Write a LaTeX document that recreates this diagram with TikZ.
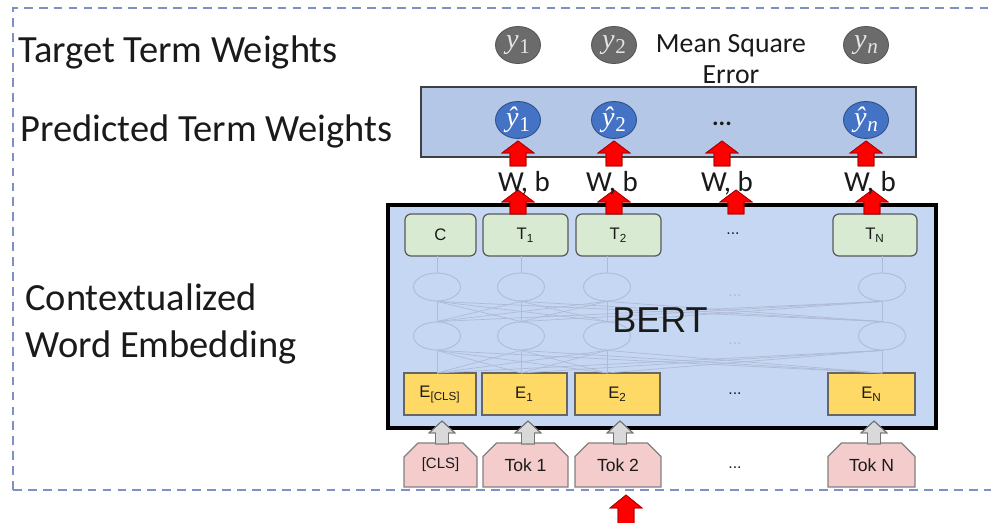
\documentclass[tikz,border=0pt]{standalone}
\usepackage{fontspec}
\setmainfont{Carlito}
\newfontfamily\arialf{Liberation Sans}
\newfontfamily\mathf{Liberation Serif}
\usetikzlibrary{shapes.misc,shapes.geometric}
\definecolor{dashblue}{HTML}{7F8FC8}
\definecolor{predfill}{HTML}{B4C7E7}
\definecolor{bertfill}{HTML}{C6D7F3}
\definecolor{greenfill}{HTML}{D9EAD3}
\definecolor{yellowfill}{HTML}{FFD966}
\definecolor{pinkfill}{HTML}{F4CCCC}
\definecolor{ygray}{HTML}{6B6B6B}
\definecolor{yblue}{HTML}{4472C4}
\definecolor{ghost}{HTML}{AEBBD6}
\definecolor{txt}{HTML}{1A1A1A}
\newcommand{\yv}[1]{{\mathf\itshape y}\kern0.5pt\raisebox{-0.35ex}{\mathf\fontsize{12}{12}\selectfont #1}}
\newcommand{\yh}[1]{{\mathf\itshape \^y}\kern0.5pt\raisebox{-0.35ex}{\mathf\fontsize{12}{12}\selectfont #1}}
\newcommand{\blockarrow}[7]{% x, ytip, ybase, headlen, headhalf, shafthalf, style
  \fill[#7] (#1,#2) -- (#1+#5,#2+#4) -- (#1+#6,#2+#4) -- (#1+#6,#3) -- (#1-#6,#3) -- (#1-#6,#2+#4) -- (#1-#5,#2+#4) -- cycle;
  \draw[#7,fill=none] (#1,#2) -- (#1+#5,#2+#4) -- (#1+#6,#2+#4) -- (#1+#6,#3) -- (#1-#6,#3) -- (#1-#6,#2+#4) -- (#1-#5,#2+#4) -- cycle;}
\begin{document}
\begin{tikzpicture}[x=0.02cm,y=-0.02cm,
  biglabel/.style={anchor=west,text=txt,font=\fontsize{21.9}{25}\selectfont,inner sep=0},
  ycirc/.style={ellipse,fill=ygray,draw=ygray!80!black,line width=0.5pt,minimum width=0.9cm,minimum height=0.74cm,inner sep=0,text=white!90!black,font=\fontsize{16}{16}\selectfont},
  yhat/.style={ellipse,fill=yblue,draw=yblue!70!black,line width=0.5pt,minimum width=0.9cm,minimum height=0.74cm,inner sep=0,text=white,font=\fontsize{16}{16}\selectfont},
  greenbox/.style={draw=black!65,fill=greenfill,rounded corners=0.12cm,line width=0.7pt,minimum height=0.84cm,inner sep=0,font=\arialf\fontsize{9.5}{10}\selectfont,text=txt},
  yellowbox/.style={draw=black!60,fill=yellowfill,line width=0.7pt,minimum height=0.84cm,inner sep=0,font=\arialf\fontsize{9.5}{10}\selectfont,text=txt},
  tokbox/.style={chamfered rectangle,chamfered rectangle corners={north east,north west},chamfered rectangle xsep=0.14cm,chamfered rectangle ysep=0.14cm,draw=black!50,fill=pinkfill,line width=0.7pt,minimum height=0.88cm,inner sep=0,font=\arialf\fontsize{10}{11}\selectfont,text=txt},
  ghostell/.style={ellipse,draw=ghost,line width=0.5pt,minimum width=0.94cm,minimum height=0.56cm,inner sep=0},
  ghostline/.style={draw=ghost,line width=0.4pt},
  dots/.style={text=txt,font=\arialf\fontsize{9}{10}\selectfont,inner sep=0},
  wb/.style={text=txt,font=\fontsize{16.5}{17}\selectfont,inner sep=0},
  redarrow/.style={fill=red,draw=red!70!black,line width=0.4pt},
  grayarrow/.style={fill=black!15,draw=black!55,line width=0.5pt}
]
\useasboundingbox (0,0) rectangle (991,523);
% dashed frame
\draw[dashblue,line width=1.1pt,dash pattern=on 5pt off 3.5pt] (13,490) -- (13,8) -- (991,8);
\draw[dashblue,line width=1.1pt,dash pattern=on 5pt off 3.5pt] (13,490) -- (991,490);

% left labels
\node[biglabel] (lt) at (18,52) {Target Term Weights};
\node[biglabel] (lp) at (20,131) {Predicted Term Weights};
\node[biglabel,align=left,anchor=west,font=\fontsize{21.9}{27}\selectfont] (lc) at (25,324) {Contextualized\\Word Embedding};

% predicted box
\node[draw=black!75,fill=predfill,line width=1.2pt,minimum width=9.9cm,minimum height=1.4cm,inner sep=0] (pred) at (668.5,122) {};

% BERT box
\node[draw=black,fill=bertfill,line width=1.8pt,minimum width=10.96cm,minimum height=4.46cm,inner sep=0] (bert) at (662,316.5) {};

% target y circles
\node[ycirc] (y1) at (518,45) {\yv{1}};
\node[ycirc] (y2) at (614,45) {\yv{2}};
\node[ycirc] (yn) at (866,45) {\yv{\itshape n}};
\node[text=txt,font=\fontsize{15.8}{17.5}\selectfont,align=center,inner sep=0] (mse) at (731,59) {Mean Square\\Error};

% predicted yhat
\node[yhat] (h1) at (518,120) {\yh{1}};
\node[yhat] (h2) at (614,120) {\yh{2}};
\node[yhat] (hn) at (866,120) {\yh{\itshape n}};
\node[text=txt,font=\fontsize{14}{15}\selectfont\bfseries,inner sep=0] (hd) at (722,124) {...};

% ghost network
\foreach \i/\x in {1/437,2/521,3/607,4/882}{
  \node[ghostell] (ra\i) at (\x,287) {};
  \node[ghostell] (rb\i) at (\x,336) {};
}
\node[text=ghost,font=\arialf\fontsize{9}{10}\selectfont,inner sep=0] (gd1) at (735,296) {...};
\node[text=ghost,font=\arialf\fontsize{9}{10}\selectfont,inner sep=0] (gd2) at (735,344) {...};

% green boxes
\node[greenbox,minimum width=1.42cm] (c) at (440.5,235) {C};
\node[greenbox,minimum width=1.70cm] (t1) at (525.5,235) {T\textsubscript{1}};
\node[greenbox,minimum width=1.70cm] (t2) at (618.5,235) {T\textsubscript{2}};
\node[dots] (td) at (733,234) {...};
\node[greenbox,minimum width=1.68cm] (tn) at (875,235) {T\textsubscript{N}};

% yellow boxes
\node[yellowbox,minimum width=1.44cm] (ecls) at (440,394) {E\textsubscript{[CLS]}};
\node[yellowbox,minimum width=1.70cm] (e1) at (524.5,394) {E\textsubscript{1}};
\node[yellowbox,minimum width=1.70cm] (e2) at (617.5,394) {E\textsubscript{2}};
\node[dots] (ed) at (735,394) {...};
\node[yellowbox,minimum width=1.74cm] (en) at (871.5,394) {E\textsubscript{N}};

% ghost lines
\foreach \i/\x in {1/437,2/521,3/607,4/882}{
  \coordinate (ga\i) at (\x,256);
  \coordinate (gb\i) at (\x,373);
}
\foreach \i in {1,2,3,4}{
  \draw[ghostline] (ra\i.north) -- (ga\i);
  \foreach \j in {1,2,3,4}{
    \draw[ghostline] (rb\j.north) -- (ra\i.south);
    \draw[ghostline] (gb\j) -- (rb\i.south);
  }
}

% token boxes
\node[tokbox,minimum width=1.46cm,font=\arialf\fontsize{8.5}{9}\selectfont] (tcls) at (440.5,465) {[CLS]};
\node[tokbox,minimum width=1.70cm] (tk1) at (525.5,465) {Tok 1};
\node[tokbox,minimum width=1.72cm] (tk2) at (618,465) {Tok 2};
\node[dots] (tkd) at (735,468) {...};
\node[tokbox,minimum width=1.74cm] (tkn) at (871.5,465) {Tok N};

% gray arrows (tokens -> embeddings)
\foreach \x in {442,528,620,874}{
  \blockarrow{\x}{421}{444}{12}{13}{6.5}{grayarrow}
}

% red arrows (T -> W,b -> yhat)
\foreach \x in {518,614,736,872}{
  \blockarrow{\x}{190}{214}{12}{16}{8}{redarrow}
}
\foreach \x in {518,614,722,866}{
  \blockarrow{\x}{141}{166}{12}{16}{8}{redarrow}
}
\node[wb] (wb1) at (524,183) {W, b};
\node[wb] (wb2) at (612,183) {W, b};
\node[wb] (wb3) at (727,183) {W, b};
\node[wb] (wb4) at (870,183) {W, b};

% BERT label
\node[text=txt,font=\arialf\fontsize{20.5}{22}\selectfont,inner sep=0] (bl) at (660,320) {BERT};

% bottom input arrow
\blockarrow{626}{495}{530}{13}{16}{8}{redarrow}
\end{tikzpicture}
\end{document}
